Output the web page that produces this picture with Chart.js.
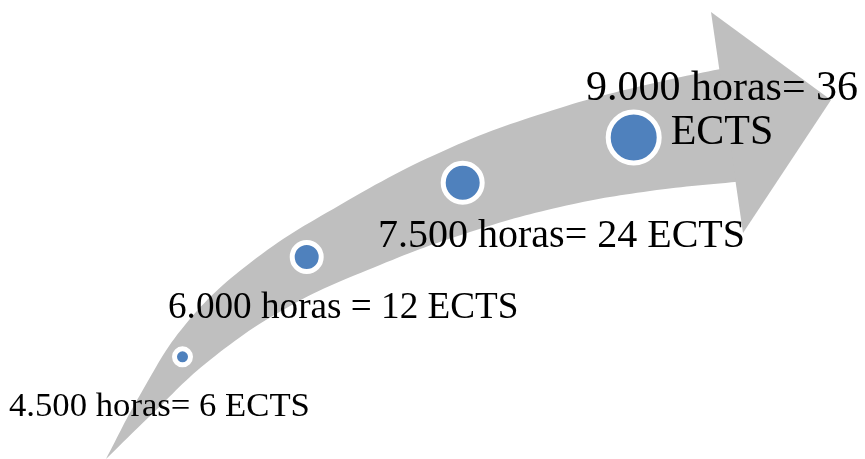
<!DOCTYPE html>
<html>
<head>
<meta charset="utf-8">
<script src="https://cdn.jsdelivr.net/npm/chart.js@4/dist/chart.umd.min.js"></script>
<style>
  html, body { margin: 0; padding: 0; background: #ffffff; }
  #wrap { width: 865px; height: 459px; position: relative; }
</style>
</head>
<body>
<div id="wrap"><canvas id="chart"></canvas></div>
<script>
// Workload steps: hours of work and the ECTS credits they correspond to
const hours = [4500, 6000, 7500, 9000];
const ects = [6, 12, 24, 36];
const stepLabels = [
  ["4.500 horas= 6 ECTS"],
  ["6.000 horas = 12 ECTS"],
  ["7.500 horas= 24 ECTS"],
  ["9.000 horas= 36", "ECTS"]
];

// Diagram layout (in the 865 x 459 drawing space)
const stepPos = [
  { x: 182.5, y: 356.8 },
  { x: 306.7, y: 257 },
  { x: 462.7, y: 182.7 },
  { x: 633.7, y: 137.5 }
];
const dotRadius = [8, 14.5, 19.5, 25.5];
const labelLayout = [
  { x: 9,   y: 416,   align: 'left',   size: 34.7, lineGap: 0 },
  { x: 168, y: 318,   align: 'left',   size: 37.2, lineGap: 0 },
  { x: 378, y: 246.5, align: 'left',   size: 40,   lineGap: 0 },
  { x: 722, y: 100,   align: 'center', size: 42,   lineGap: 43.5 }
];

// Curved arrow body: upper and lower edges, both running from the tail to the head
const arrowUpper = [
  [106, 459], [140, 395], [185, 325], [250, 263], [340, 205],
  [450, 148], [560, 108], [650, 84], [745, 64]
];
const arrowLower = [
  [106, 459], [150, 416], [210, 360], [290, 306], [380, 265],
  [470, 232], [560, 207], [650, 191], [745, 181]
];
const arrowHead = [[711, 12], [831, 100], [743, 233]];

const toPoints = arr => arr.map(p => ({ x: p[0], y: p[1] }));

const ARROW_GREY = '#bfbfbf';
const DOT_BLUE = '#4f81bd';

// Draws the step captions at their anchor positions through the scales
const captionPlugin = {
  id: 'captions',
  afterDatasetsDraw(chart) {
    const { ctx, scales } = chart;
    ctx.save();
    ctx.fillStyle = '#000000';
    ctx.textBaseline = 'alphabetic';
    stepLabels.forEach((lines, i) => {
      const l = labelLayout[i];
      ctx.font = l.size + 'px "Liberation Serif", "Times New Roman", serif';
      ctx.textAlign = l.align;
      const px = scales.x.getPixelForValue(l.x);
      lines.forEach((txt, k) => {
        const py = scales.y.getPixelForValue(l.y + k * l.lineGap);
        ctx.fillText(txt, px, py);
      });
    });
    ctx.restore();
  }
};

new Chart(document.getElementById('chart'), {
  type: 'bubble',
  data: {
    datasets: [
      {
        label: 'ECTS',
        order: 0,
        data: hours.map((h, i) => ({ x: stepPos[i].x, y: stepPos[i].y, r: dotRadius[i], hours: h, ects: ects[i] })),
        backgroundColor: DOT_BLUE,
        borderColor: '#ffffff',
        borderWidth: 5,
        clip: false
      },
      {
        type: 'line',
        label: 'head',
        order: 1,
        data: toPoints(arrowHead),
        backgroundColor: ARROW_GREY,
        borderWidth: 0,
        pointRadius: 0,
        tension: 0,
        fill: 'shape',
        clip: false
      },
      {
        type: 'line',
        label: 'body-upper',
        order: 2,
        data: toPoints(arrowUpper),
        backgroundColor: ARROW_GREY,
        borderColor: ARROW_GREY,
        borderWidth: 0,
        pointRadius: 0,
        tension: 0.4,
        fill: '+1',
        clip: false
      },
      {
        type: 'line',
        label: 'body-lower',
        order: 2,
        data: toPoints(arrowLower),
        backgroundColor: ARROW_GREY,
        borderColor: ARROW_GREY,
        borderWidth: 0,
        pointRadius: 0,
        tension: 0.4,
        fill: false,
        clip: false
      }
    ]
  },
  options: {
    responsive: true,
    maintainAspectRatio: false,
    animation: false,
    events: [],
    layout: { padding: 0, autoPadding: false },
    plugins: { legend: { display: false }, tooltip: { enabled: false } },
    scales: {
      x: { type: 'linear', min: 0, max: 865, display: false },
      y: { type: 'linear', min: 0, max: 459, reverse: true, display: false }
    }
  },
  plugins: [captionPlugin]
});
</script>
</body>
</html>
